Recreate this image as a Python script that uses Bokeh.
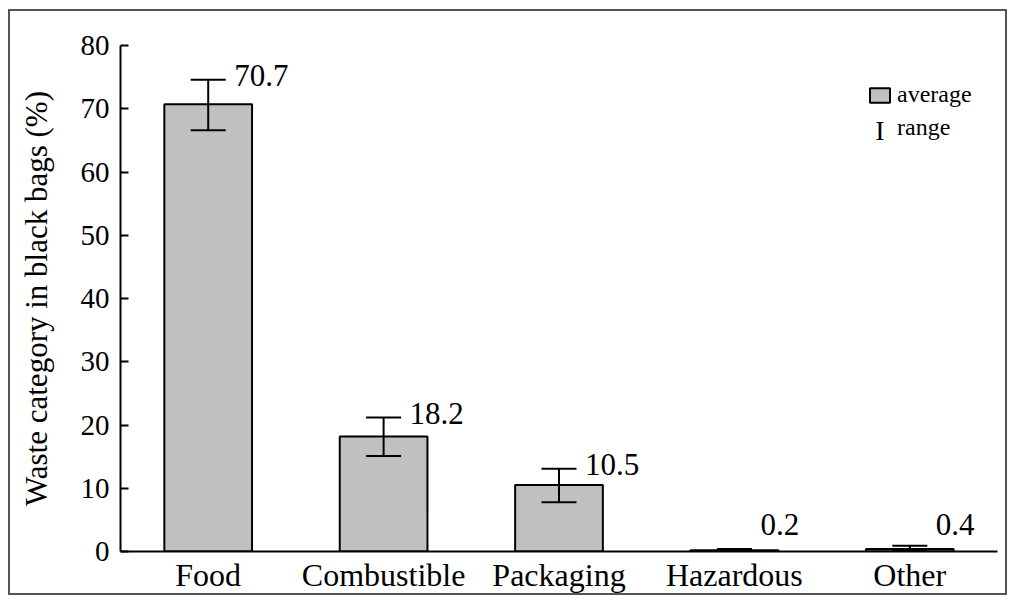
from bokeh.plotting import figure
from bokeh.models import (ColumnDataSource, Whisker, TeeHead, Legend, LegendItem,
                          Label, FixedTicker, FactorRange, Range1d)
from bokeh.embed import file_html
from bokeh.resources import INLINE
from bokeh.core.properties import value

# ---- data ----
categories = ["Food", "Combustible", "Packaging", "Hazardous", "Other"]
average = [70.7, 18.2, 10.5, 0.2, 0.4]
range_high = [74.6, 21.2, 13.1, 0.4, 0.9]
range_low = [66.6, 15.1, 7.8, 0.0, 0.1]
value_labels = ["70.7", "18.2", "10.5", "0.2", "0.4"]
y_ticks = [0, 10, 20, 30, 40, 50, 60, 70, 80]

FONT = "Liberation Serif"

label_y = [max(h + 0.6, 4.3) for h in range_high]

src = ColumnDataSource(dict(cat=categories, avg=average, hi=range_high,
                            lo=range_low, txt=value_labels, ty=label_y))

p = figure(x_range=FactorRange(factors=categories, range_padding=0),
           y_range=Range1d(0, 80),
           width=999, height=586,
           output_backend="svg", toolbar_location=None,
           min_border_left=110, min_border_right=12,
           min_border_top=34, min_border_bottom=46,
           styles={"border": "2px solid #555555",
                   "margin-left": "8px", "margin-top": "9px"})

bars = p.vbar(x="cat", top="avg", width=0.5, source=src,
              fill_color="#c0c0c0", line_color="black", line_width=2)

whisk = Whisker(source=src, base="cat", upper="hi", lower="lo",
                line_width=2, line_color="black", level="overlay",
                upper_head=TeeHead(size=35, line_width=2, line_color="black"),
                lower_head=TeeHead(size=35, line_width=2, line_color="black"))
p.add_layout(whisk)

p.text(x="cat", y="ty", text="txt", source=src, x_offset=26,
       text_align="left", text_baseline="middle",
       text_font=value(FONT), text_font_size="31px", text_color="black")

# axes styling
p.xgrid.visible = False
p.ygrid.visible = False
p.outline_line_color = None

p.yaxis.ticker = FixedTicker(ticks=y_ticks)
p.yaxis.major_tick_in = 8
p.yaxis.major_tick_out = 0
p.yaxis.minor_tick_line_color = None
p.yaxis.axis_line_width = 2
p.yaxis.major_tick_line_width = 2
p.yaxis.axis_line_color = "black"
p.yaxis.major_tick_line_color = "black"
p.yaxis.major_label_text_font = FONT
p.yaxis.major_label_text_font_size = "29px"
p.yaxis.major_label_text_color = "black"
p.yaxis.major_label_standoff = 11
p.yaxis.axis_label = "Waste category in black bags (%)"
p.yaxis.axis_label_text_font = FONT
p.yaxis.axis_label_text_font_size = "31px"
p.yaxis.axis_label_text_font_style = "normal"
p.yaxis.axis_label_text_color = "black"
p.yaxis.axis_label_standoff = 24

p.xaxis.major_tick_line_color = None
p.xaxis.minor_tick_line_color = None
p.xaxis.axis_line_width = 2
p.xaxis.axis_line_color = "black"
p.xaxis.major_label_text_font = FONT
p.xaxis.major_label_text_font_size = "32px"
p.xaxis.major_label_text_color = "black"
p.xaxis.major_label_standoff = -1

# legend
empty = ColumnDataSource(dict(x=[], y=[]))
r_range = p.scatter(x="x", y="y", source=empty, alpha=0)
legend = Legend(items=[LegendItem(label="average", renderers=[bars]),
                       LegendItem(label="range", renderers=[r_range])],
                location=(747, 410),
                label_text_font=FONT, label_text_font_size="24px",
                label_text_color="black",
                glyph_width=25, glyph_height=18, label_standoff=5,
                spacing=6, padding=0, margin=0,
                border_line_color=None, background_fill_alpha=0)
p.add_layout(legend)

p.add_layout(Label(x=4.33, y=66.6, text="I", text_align="center",
                   text_baseline="alphabetic", text_font=FONT,
                   text_font_size="28px", text_color="black"))

open("out.html", "w").write(file_html(p, INLINE, title="Waste categories"))
